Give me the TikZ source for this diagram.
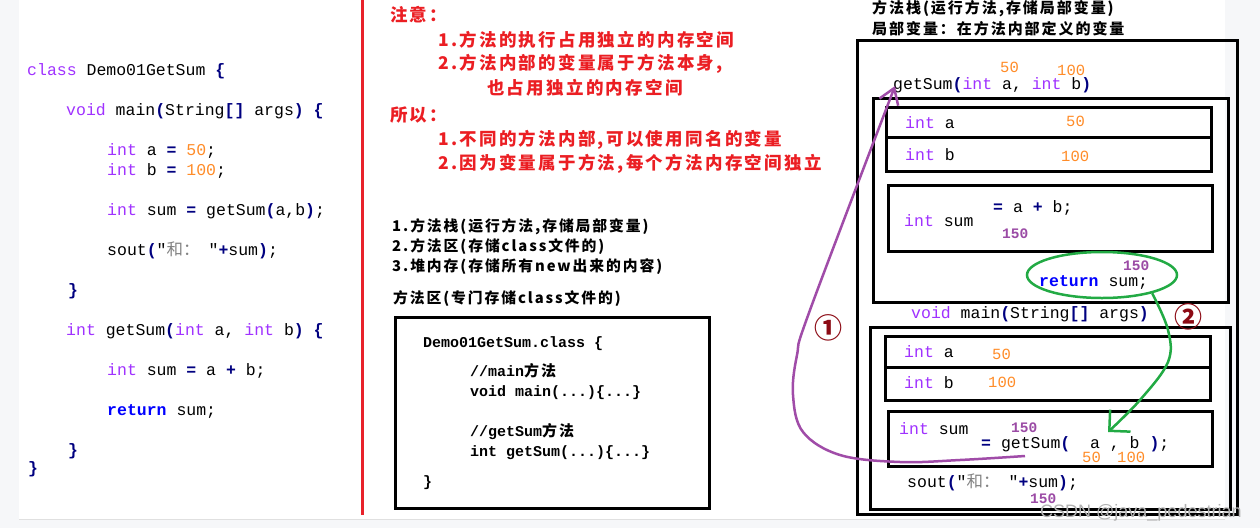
\documentclass[tikz,border=0pt]{standalone}
\usepackage{fontspec}
\setmonofont{Liberation Mono}
\newfontfamily\cjk{Noto Sans CJK SC}
\newfontfamily\cjkls{Noto Sans CJK SC}[LetterSpace=13]
\newfontfamily\wmfont{Liberation Sans}
\usetikzlibrary{arrows.meta,shapes.geometric,fit}
\definecolor{kw}{RGB}{160,50,255}
\definecolor{numc}{RGB}{255,140,40}
\definecolor{opc}{RGB}{0,0,128}
\definecolor{retc}{RGB}{0,0,255}
\definecolor{valc}{RGB}{155,75,165}
\definecolor{arrp}{RGB}{160,76,168}
\definecolor{arrg}{RGB}{34,170,68}
\definecolor{circ}{RGB}{140,10,20}
\definecolor{redt}{RGB}{235,30,35}
\definecolor{redline}{RGB}{232,34,42}
\definecolor{bgc}{RGB}{246,247,249}
\definecolor{strc}{RGB}{130,130,130}
\newcommand\kwd[1]{\textcolor{kw}{#1}}
\newcommand\nmb[1]{\textcolor{numc}{#1}}
\newcommand\opr[1]{\textcolor{opc}{\bfseries #1}}
\newcommand\codefont{\fontsize{16.5}{18}\ttfamily}
\tikzset{
  code/.style={anchor=base west, inner sep=0pt, font=\codefont},
  mcode/.style={anchor=base west, inner sep=0pt, font=\fontsize{15}{16}\ttfamily\bfseries},
  val/.style={anchor=base west, inner sep=0pt, font=\fontsize{15.5}{16}\ttfamily, text=numc},
  res/.style={anchor=base west, inner sep=0pt, font=\fontsize{14.5}{16}\ttfamily\bfseries, text=valc},
  redtxt/.style={anchor=west, inner sep=0pt, text=redt, font=\fontsize{17.5}{20}\cjkls\bfseries},
  blktxt/.style={anchor=west, inner sep=0pt, font=\fontsize{14.8}{17}\cjkls\bfseries},
  head/.style={anchor=west, inner sep=0pt, font=\fontsize{15}{17}\cjkls\bfseries},
  box/.style={draw=black, line width=3pt, inner sep=0pt},
  circnum/.style={text=circ, font=\fontsize{28}{28}\cjk\bfseries, inner sep=0pt},
  arrowp/.style={draw=arrp, line width=2.5pt, -{Straight Barb[length=15pt,width=20pt]}},
  arrowg/.style={draw=arrg, line width=2.5pt, -{Straight Barb[length=15pt,width=30pt]}},
}
\begin{document}
\begin{tikzpicture}[x=1pt,y=-1pt]
\useasboundingbox (0,0) rectangle (1260,528);
\fill[bgc] (0,0) rectangle (1260,528);
\fill[white] (19,0) rectangle (1225,519);
\draw[black!12, line width=1pt] (19,519.5) -- (1225,519.5);

% ---------------- left code ----------------
\node[code] (l1) at (27,75) {\kwd{class} Demo01GetSum \opr{\{}};
\node[code] (l2) at (66,115) {\kwd{void} main\opr{(}String\opr{[]} args\opr{)} \opr{\{}};
\node[code] (l3) at (107,155) {\kwd{int} a \opr{=} \nmb{50};};
\node[code] (l4) at (107,175) {\kwd{int} b \opr{=} \nmb{100};};
\node[code] (l5) at (107,215) {\kwd{int} sum \opr{=} getSum\opr{(}a,b\opr{)};};
\node[code] (l6) at (107,255) {sout\opr{(}"\makebox[42pt][l]{\textcolor{strc}{\cjk 和：}}"\opr{+}sum\opr{)};};
\node[code] (l7) at (68,295) {\opr{\}}};
\node[code] (l8) at (66,335) {\kwd{int} getSum\opr{(}\kwd{int} a, \kwd{int} b\opr{)} \opr{\{}};
\node[code] (l9) at (107,375) {\kwd{int} sum \opr{=} a \opr{+} b;};
\node[code] (l10) at (107,415) {\textcolor{retc}{\bfseries return} sum;};
\node[code] (l11) at (68,455) {\opr{\}}};
\node[code] (l12) at (28,473) {\opr{\}}};

% ---------------- red divider ----------------
\draw[redline, line width=3pt] (362,0) -- (362,515);

% ---------------- notes ----------------
\node[redtxt] (n1) at (390,15) {注意：};
\node[redtxt] (n2) at (438,40) {1.方法的执行占用独立的内存空间};
\node[redtxt] (n3) at (438,64) {2.方法内部的变量属于方法本身,};
\node[redtxt] (n4) at (487,88) {也占用独立的内存空间};
\node[redtxt] (n5) at (390,115) {所以：};
\node[redtxt] (n6) at (438,140) {1.不同的方法内部,可以使用同名的变量};
\node[redtxt] (n7) at (438,164) {2.因为变量属于方法,每个方法内存空间独立};

\node[blktxt] (m1) at (392,227) {1.方法栈(运行方法,存储局部变量)};
\node[blktxt] (m2) at (392,247) {2.方法区(存储class文件的)};
\node[blktxt] (m3) at (392,267) {3.堆内存(存储所有new出来的内容)};
\node[blktxt] (m4) at (393,299) {方法区(专门存储class文件的)};

\node[box, fit={(395,317) (709,508)}] (areabox) {};
\node[mcode] (c1) at (423,347) {Demo01GetSum.class \{};
\node[mcode] (c2) at (470,376) {//main{\cjkls 方法}};
\node[mcode] (c3) at (470,396) {void main(...)\{...\}};
\node[mcode] (c4) at (470,436) {//getSum{\cjkls 方法}};
\node[mcode] (c5) at (470,456) {int getSum(...)\{...\}};
\node[mcode] (c6) at (423,486) {\}};

% ---------------- stack ----------------
\node[head] (h1) at (872,8.5) {方法栈(运行方法,存储局部变量)};
\node[head] (h2) at (872,28.5) {局部变量：在方法内部定义的变量};

\node[box, fit={(857,40) (1237,514)}] (stack) {};

% getSum frame
\node[code] (gs) at (893,89) {getSum\opr{(}\kwd{int} a, \kwd{int} b\opr{)}};
\node[val] (gsa) at (1000,72) {50};
\node[val] (gsb) at (1057,75) {100};
\node[box, fit={(873,98) (1228,302)}] (gframe) {};
\node[box, fit={(886,107) (1211,137)}] (gabox) {};
\node[box, fit={(886,137) (1211,171)}] (gbbox) {};
\node[code] (gat) at (905,128) {\kwd{int} a};
\node[val] (gav) at (1066,126) {50};
\node[code] (gbt) at (905,160) {\kwd{int} b};
\node[val] (gbv) at (1061,161) {100};
\node[box, fit={(888,185) (1212,251)}] (gsbox) {};
\node[code] (gst) at (904,226) {\kwd{int} sum};
\node[code] (gse) at (993,212) {\opr{=} a \opr{+} b;};
\node[res] (gsv) at (1002,238) {150};
\node[ellipse, draw=arrg, line width=2.5pt, minimum width=150pt, minimum height=46pt, inner sep=0pt] (ell) at (1102,275) {};
\node[code] (ret) at (1039,286) {\textcolor{retc}{\bfseries return} sum;};
\node[res] (retv) at (1123,270) {150};

% main frame
\node[code] (mn) at (911,318) {\kwd{void} main\opr{(}String\opr{[]} args\opr{)}};
\node[box, fit={(870,327) (1230,509)}] (mframe) {};
\node[box, fit={(885,336) (1210,367)}] (mabox) {};
\node[box, fit={(885,367) (1210,400)}] (mbbox) {};
\node[code] (mat) at (904,357) {\kwd{int} a};
\node[val] (mav) at (992,359) {50};
\node[code] (mbt) at (904,388) {\kwd{int} b};
\node[val] (mbv) at (988,387) {100};
\node[box, fit={(888,411) (1212,466)}] (msbox) {};
\node[code] (mst) at (899,434) {\kwd{int} sum};
\node[res] (msv) at (1011,432) {150};
\node[code] (mse) at (981,448) {\opr{=} getSum\opr{(}\ \ a , b \opr{)};};
\node[val] (msa) at (1082,462) {50};
\node[val] (msb) at (1117,462) {100};
\node[code] (so) at (907,487) {sout\opr{(}"\makebox[42pt][l]{\textcolor{strc}{\cjk 和：}}"\opr{+}sum\opr{)};};
\node[res] (sov) at (1030,503) {150};

% circled numbers
\node[circnum] (k1) at (828,328) {①};
\node[circnum] (k2) at (1188,317) {②};

% arrows
\coordinate (a1s) at (1025,456);
\coordinate (a1e) at (895,86);
\draw[arrowp] plot[smooth, tension=0.6] coordinates {(a1s) (960,460) (900,462) (840,455) (803,432) (793,395) (797,355) (810,310) (a1e)};
\coordinate (a2e) at (1108,432);
\draw[arrowg] plot[smooth, tension=0.6] coordinates {(ell.-20) (1168,330) (1168,362) (1140,400) (a2e)};

% watermark
\node[anchor=base west, inner sep=0pt, text=black!30, font=\fontsize{18}{20}\wmfont] (wm) at (1040,517) {CSDN @java\_pedestrian};
\end{tikzpicture}
\end{document}
